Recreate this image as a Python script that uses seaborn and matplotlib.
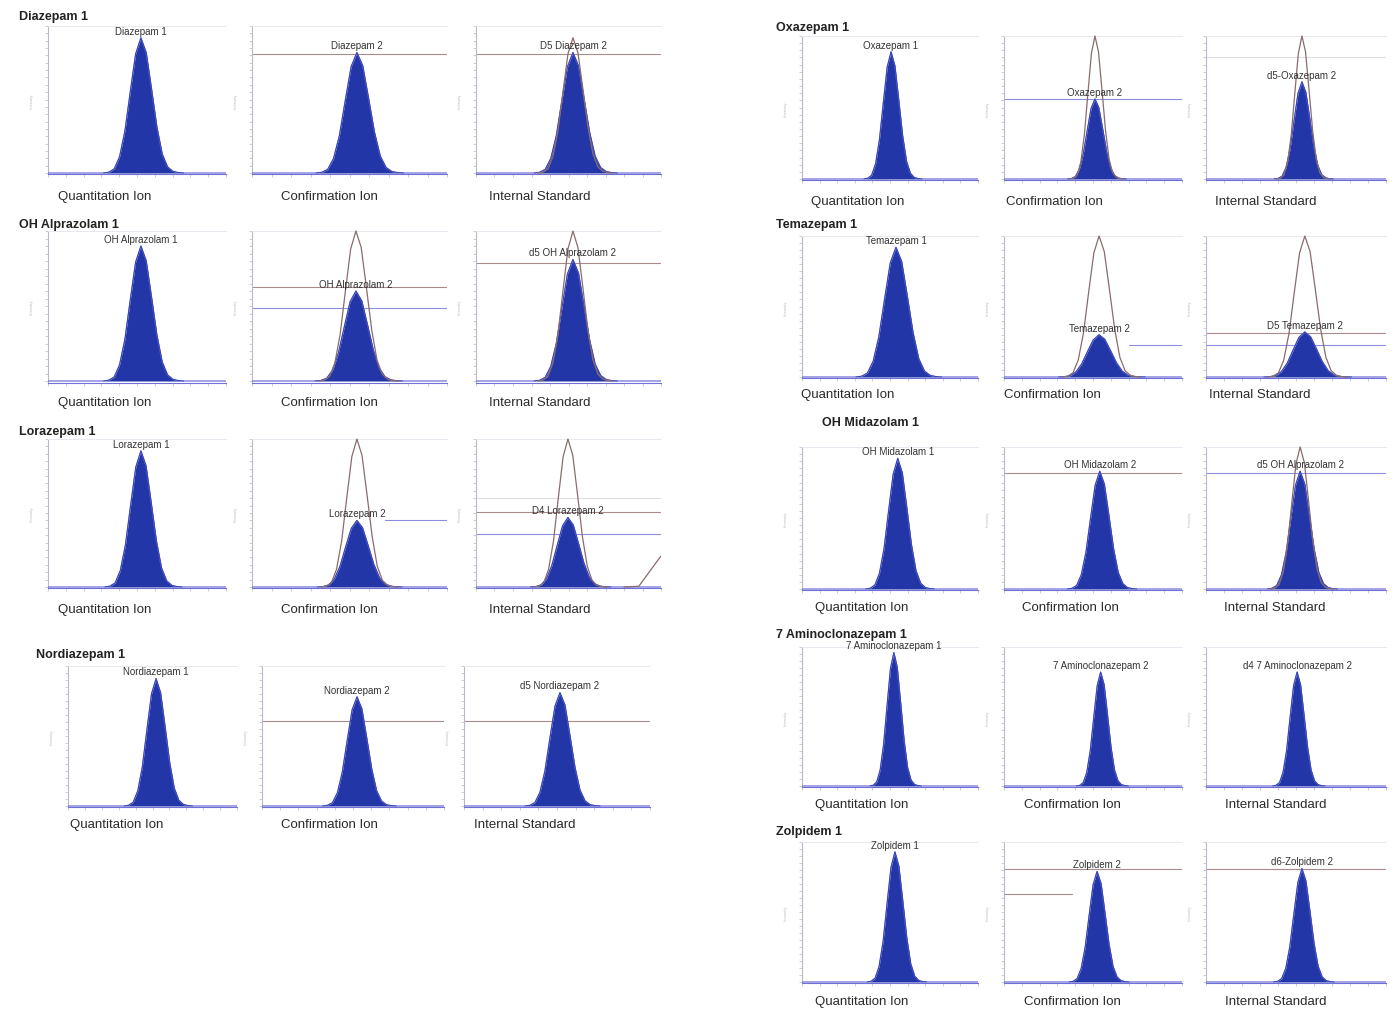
import numpy as np
import pandas as pd
import matplotlib
matplotlib.use("Agg")
import matplotlib.pyplot as plt
import seaborn as sns

sns.set_theme(style="white")
plt.rcParams['font.family'] = ['Liberation Sans', 'DejaVu Sans']

# ---------------- data ----------------
compounds = ["Diazepam 1", "OH Alprazolam 1", "Lorazepam 1", "Nordiazepam 1",
             "Oxazepam 1", "Temazepam 1", "OH Midazolam 1", "7 Aminoclonazepam 1",
             "Zolpidem 1"]
peak_labels = [
    ["Diazepam 1", "Diazepam 2", "D5 Diazepam 2"],
    ["OH Alprazolam 1", "OH Alprazolam 2", "d5 OH Alprazolam 2"],
    ["Lorazepam 1", "Lorazepam 2", "D4 Lorazepam 2"],
    ["Nordiazepam 1", "Nordiazepam 2", "d5 Nordiazepam 2"],
    ["Oxazepam 1", "Oxazepam 2", "d5-Oxazepam 2"],
    ["Temazepam 1", "Temazepam 2", "D5 Temazepam 2"],
    ["OH Midazolam 1", "OH Midazolam 2", "d5 OH Alprazolam 2"],
    ["7 Aminoclonazepam 1", "7 Aminoclonazepam 2", "d4 7 Aminoclonazepam 2"],
    ["Zolpidem 1", "Zolpidem 2", "d6-Zolpidem 2"],
]
ion_labels = ["Quantitation Ion", "Confirmation Ion", "Internal Standard"]

# retention position of each peak (0-100 across the trace window)
peak_centers = [
    [52.2, 53.8, 52.4],
    [52.2, 53.3, 52.4],
    [52.2, 53.8, 49.7],
    [52.1, 52.2, 51.6],
    [50.6, 51.1, 53.3],
    [53.4, 53.4, 54.9],
    [54.4, 53.8, 52.3],
    [52.2, 54.3, 50.6],
    [52.8, 52.3, 53.3],
]
# relative abundance (%) of the filled peak
peak_heights = [
    [92, 82, 82],
    [90, 60, 81],
    [92, 45, 47],
    [91, 78, 81],
    [89, 56, 68],
    [92, 30, 32],
    [92, 83, 83],
    [96, 82, 82],
    [93, 79, 81],
]
# peak width (sigma, same units as retention position)
peak_sigma = [6.0, 6.0, 5.8, 5.4, 4.4, 6.5, 5.2, 3.9, 4.5]
# height (%) of the overlaid reference trace, 0 = none
outline_heights = [
    [0, 0, 92],
    [0, 100, 100],
    [0, 100, 100],
    [0, 0, 0],
    [0, 100, 100],
    [0, 100, 100],
    [0, 0, 100],
    [0, 0, 0],
    [0, 0, 0],
]
# tolerance / reference levels: (level %, x from, x to, kind)
ref_lines = [
    [[], [(81, 0, 100, "r")], [(81, 0, 100, "r")]],
    [[], [(63, 0, 100, "r"), (49, 0, 100, "b")], [(79, 0, 100, "r")]],
    [[], [(45, 68, 100, "b")], [(60, 0, 100, "g"), (51, 0, 100, "r"), (36, 0, 100, "b")]],
    [[], [(61, 0, 100, "r")], [(61, 0, 100, "r")]],
    [[], [(56, 0, 100, "b")], [(85, 0, 100, "g")]],
    [[], [(23, 70, 100, "b")], [(31, 0, 100, "r"), (23, 0, 100, "b")]],
    [[], [(82, 0, 100, "r")], [(82, 0, 100, "b")]],
    [[], [], []],
    [[], [(81, 0, 100, "r"), (63, 0, 38, "r")], [(81, 0, 100, "r")]],
]
# normalised peak profile (offset in sigma, relative intensity)
peak_offsets = [-3.5, -3.0, -2.5, -2.0, -1.5, -1.0, -0.5, 0.0, 0.5,
                1.0, 1.5, 2.0, 2.5, 3.0, 3.5, 4.0]
peak_shape = [0.0, 0.006, 0.03, 0.12, 0.31, 0.6, 0.88, 1.0, 0.89,
              0.62, 0.34, 0.14, 0.045, 0.012, 0.003, 0.0]
# late-eluting trace at the end of the Lorazepam internal-standard window
lz_tail_x = [80, 88, 100]
lz_tail_y = [0, 0.5, 21]

# ---------------- layout (pixels) ----------------
W, H = 1398, 1020
left_cols_a = [(48, 226), (252, 447), (476, 661)]
left_cols_b = [(68, 237), (262, 444), (464, 650)]
right_cols = [(802, 978), (1004, 1182), (1206, 1386)]
row_cols = [left_cols_a, left_cols_a, left_cols_a, left_cols_b,
            right_cols, right_cols, right_cols, right_cols, right_cols]
row_y = [(27, 174), (232, 382), (440, 588), (667, 807),
         (37, 180), (237, 378), (448, 590), (648, 787), (843, 983)]
title_pos = [(19, 17), (19, 225), (19, 432), (36, 655),
             (776, 28), (776, 225), (822, 423), (776, 635), (776, 832)]
xlab_y = [197, 403, 610, 825, 202, 395, 608, 805, 1002]
xlab_x = [(105, 329, 540), (105, 329, 540), (105, 329, 540), (117, 329, 525),
          (858, 1054, 1266), (848, 1052, 1260), (862, 1070, 1275),
          (862, 1072, 1276), (862, 1072, 1276)]

FILL = "#2336a8"
EDGE = "#3040b0"
BASE = "#7070d8"
OUTL = "#8a6c6c"
LINE_COL = {"r": "#a88c8c", "b": "#8c8ce0", "g": "#dcdce4"}
SPINE = "#b8b8cc"

fig = plt.figure(figsize=(W / 100, H / 100), dpi=100)
fig.patch.set_facecolor("white")

offs = np.array(peak_offsets)
shape = np.array(peak_shape)

for r in range(len(compounds)):
    top, base = row_y[r]
    span = base - top
    pad = span * 0.01
    for c in range(3):
        x0, x1 = row_cols[r][c]
        ax = fig.add_axes([x0 / W, 1 - (base + pad) / H, (x1 - x0) / W, (span + pad) / H])
        ax.set_xlim(0, 100)
        ax.set_ylim(-1, 100)
        ax.patch.set_alpha(0)

        for (lvl, xa, xb, kind) in ref_lines[r][c]:
            ax.plot([xa, xb], [lvl, lvl], color=LINE_COL[kind], lw=0.8, zorder=1)

        cx = peak_centers[r][c]
        sig = peak_sigma[r]
        px = cx + offs * sig
        py = peak_heights[r][c] * shape
        trace = pd.DataFrame({"t": np.concatenate([[0], px, [100]]),
                              "i": np.concatenate([[0], py, [0]])})
        ax.fill_between(trace["t"], 0, trace["i"], color=FILL, lw=0, zorder=3)
        sns.lineplot(data=trace, x="t", y="i", ax=ax, color=BASE, lw=0.9,
                     sort=False, estimator=None, zorder=4)
        sns.lineplot(x=px, y=py, ax=ax, color=EDGE, lw=0.6,
                     sort=False, estimator=None, zorder=4)

        oh = outline_heights[r][c]
        if oh:
            ox = cx + offs * sig * 0.9
            oy = oh * shape
            sns.lineplot(x=ox, y=oy, ax=ax, color=OUTL, lw=0.9, sort=False,
                         estimator=None, zorder=5).lines[-1].set_clip_on(False)
        if r == 2 and c == 2:
            sns.lineplot(x=lz_tail_x, y=lz_tail_y, ax=ax, color=OUTL, lw=0.9,
                         sort=False, estimator=None, zorder=5)

        ax.text(cx, peak_heights[r][c] + 1.5, peak_labels[r][c], ha="center",
                va="bottom", fontsize=7, color="#333333", zorder=6, clip_on=False)

        ax.spines["right"].set_visible(False)
        ax.spines["top"].set_color("#e8e8ee")
        ax.spines["top"].set_linewidth(0.7)
        ax.spines["left"].set_color(SPINE)
        ax.spines["bottom"].set_color(BASE)
        ax.spines["left"].set_linewidth(0.8)
        ax.spines["bottom"].set_linewidth(0.8)
        ax.set_yticks(np.arange(0, 101, 5))
        ax.set_xticks(np.arange(0, 101, 10))
        ax.tick_params(axis="both", which="both", length=2, width=0.5,
                       color=SPINE, labelleft=False, labelbottom=False,
                       left=True, bottom=True)
        ax.set_xlabel("")
        ax.set_ylabel("Intensity", fontsize=3, color="#bbbbbb", labelpad=8)

        fig.text(xlab_x[r][c] / W, 1 - xlab_y[r] / H, ion_labels[c],
                 ha="center", va="center", fontsize=9.5, color="#2a2a2a")

    tx, ty = title_pos[r]
    fig.text(tx / W, 1 - ty / H, compounds[r], ha="left", va="center",
             fontsize=9, fontweight="bold", color="#222222")

fig.savefig("out.png", dpi=100, facecolor="white")
